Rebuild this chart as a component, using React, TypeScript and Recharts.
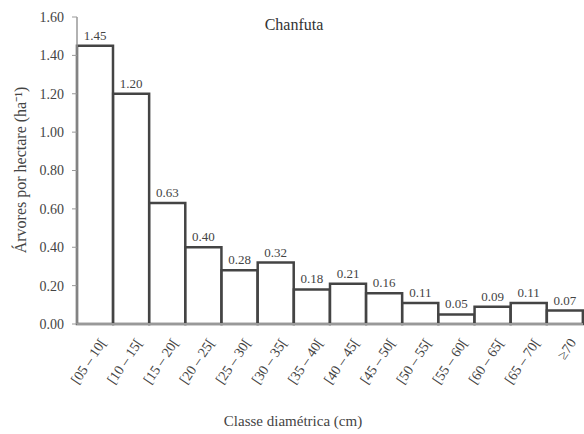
import { BarChart, Bar, XAxis, YAxis, LabelList } from "recharts"

const classes = [
  "[05 – 10[", "[10 – 15[", "[15 – 20[", "[20 – 25[", "[25 – 30[", "[30 – 35[", "[35 – 40[",
  "[40 – 45[", "[45 – 50[", "[50 – 55[", "[55 – 60[", "[60 – 65[", "[65 – 70[", "≥70",
]
const trees = [1.45, 1.2, 0.63, 0.4, 0.28, 0.32, 0.18, 0.21, 0.16, 0.11, 0.05, 0.09, 0.11, 0.07]
const yTicks = [0, 0.2, 0.4, 0.6, 0.8, 1.0, 1.2, 1.4, 1.6]

const data = classes.map((c, i) => ({ classe: c, valor: trees[i] }))

const font = "'Liberation Serif', 'Times New Roman', serif"

function XTick({ x, y, payload }: any) {
  const ax = x + 8
  const ay = y + 8
  return (
    <text
      x={ax}
      y={ay}
      transform={`rotate(-56 ${ax} ${ay})`}
      textAnchor="end"
      dominantBaseline="central"
      fontFamily={font}
      fontSize={14}
      fill="#444"
    >
      {payload.value}
    </text>
  )
}

export default function App() {
  return (
    <div style={{ position: "absolute", left: 0, top: 0, width: 584, height: 434, background: "#fff" }}>
      <BarChart
        width={584}
        height={434}
        data={data}
        margin={{ top: 17, right: 1, bottom: 80, left: 0 }}
        barCategoryGap={0}
      >
        <text x={294} y={24} textAnchor="middle" dominantBaseline="central" fontFamily={font} fontSize={16} fill="#333">
          Chanfuta
        </text>
        <text x={293} y={421} textAnchor="middle" dominantBaseline="central" fontFamily={font} fontSize={15} fill="#444">
          Classe diamétrica (cm)
        </text>
        <text
          x={20}
          y={170}
          transform="rotate(-90 20 170)"
          textAnchor="middle"
          dominantBaseline="central"
          fontFamily={font}
          fontSize={16}
          fill="#444"
        >
          Árvores por hectare (ha⁻¹)
        </text>
        <XAxis
          dataKey="classe"
          interval={0}
          tick={<XTick />}
          tickLine={false}
          axisLine={{ stroke: "#999", strokeWidth: 2 }}
        />
        <YAxis
          width={77}
          domain={[0, 1.6]}
          ticks={yTicks}
          tickFormatter={(v: number) => v.toFixed(2)}
          tick={{ fontFamily: font, fontSize: 14, fill: "#444" }}
          tickSize={5}
          tickMargin={8}
          tickLine={{ stroke: "#999" }}
          axisLine={{ stroke: "#999", strokeWidth: 1.5 }}
        />
        <Bar dataKey="valor" fill="#fff" stroke="#444" strokeWidth={2.5} isAnimationActive={false}>
          <LabelList
            dataKey="valor"
            position="top"
            offset={6}
            formatter={(v: number) => v.toFixed(2)}
            style={{ fontFamily: font, fontSize: 13, fill: "#444" }}
          />
        </Bar>
      </BarChart>
    </div>
  )
}
